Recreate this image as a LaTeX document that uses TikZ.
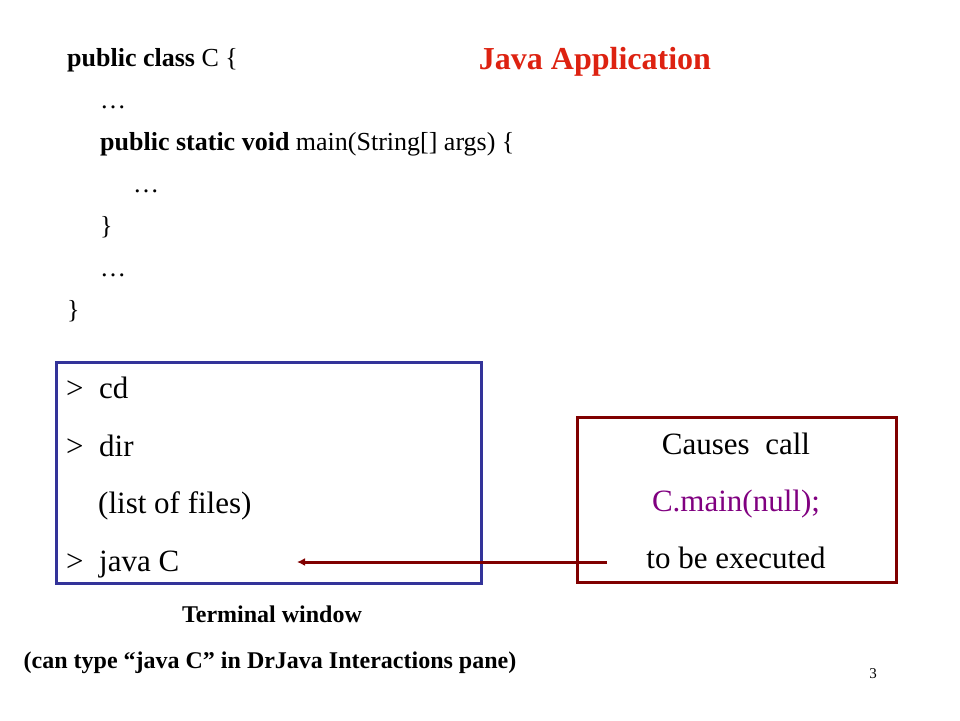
\documentclass[tikz,border=0pt]{standalone}
\usepackage{fontspec}
\setmainfont{Liberation Serif}
\usetikzlibrary{arrows.meta}
\definecolor{termblue}{RGB}{51,51,153}
\definecolor{calldark}{RGB}{128,0,0}
\definecolor{titlered}{RGB}{221,34,17}
\definecolor{callpurple}{RGB}{128,0,128}
\tikzset{
	code/.style={anchor=base west,inner sep=0pt,font=\fontsize{26}{30}\selectfont},
	term/.style={anchor=base west,inner sep=0pt,font=\fontsize{31}{36}\selectfont},
	calltext/.style={anchor=base,inner sep=0pt,font=\fontsize{31}{36}\selectfont},
	caption/.style={anchor=base,inner sep=0pt,font=\fontsize{24}{28}\selectfont\bfseries},
}
\begin{document}
\begin{tikzpicture}[x=1pt,y=-1pt]
	\useasboundingbox (0,0) rectangle (960,720);
	% class skeleton
	\node[code] (cls) at (67,66) {\textbf{public class} C \{};
	\node[code] (dotsa) at (100,108) {\ldots};
	\node[code] (mainline) at (100,150) {\textbf{public static void} main(String[] args) \{};
	\node[code] (dotsb) at (133,192) {\ldots};
	\node[code] (closea) at (100,234) {\}};
	\node[code] (dotsc) at (100,276) {\ldots};
	\node[code] (closeb) at (67,318) {\}};
	\node[anchor=base,inner sep=0pt,font=\fontsize{32}{38}\selectfont\bfseries,text=titlered] (title) at (595,69) {Java Application};
	% terminal window
	\draw[termblue,line width=3pt] (56,362) rectangle (481,583);
	\node[term] (cd) at (66,398) {>\ \ cd};
	\node[term] (dir) at (66,456) {>\ \ dir};
	\node[term] (files) at (98,513) {(list of files)};
	\node[term] (javac) at (66,571) {>\ \ java C};
	\node[caption] (termcap) at (272,622) {Terminal window};
	\node[caption] (drjava) at (270,668) {(can type “java C” in DrJava Interactions pane)};
	% what it causes
	\draw[calldark,line width=3pt] (577,417) rectangle (896,582);
	\node[calltext] (causes) at (736,454) {Causes\ \ call};
	\node[calltext,text=callpurple] (maincall) at (736,511) {C.main(null);};
	\node[calltext] (executed) at (736,568) {to be executed};
	\coordinate (callstart) at (607,562);
	\coordinate (callend) at (297,562);
	\draw[calldark,line width=3pt,-{Latex[length=8pt,width=8pt]}] (callstart) -- (callend);
	\node[anchor=base,inner sep=0pt,font=\fontsize{15}{18}\selectfont] (page) at (873,678) {3};
\end{tikzpicture}
\end{document}
